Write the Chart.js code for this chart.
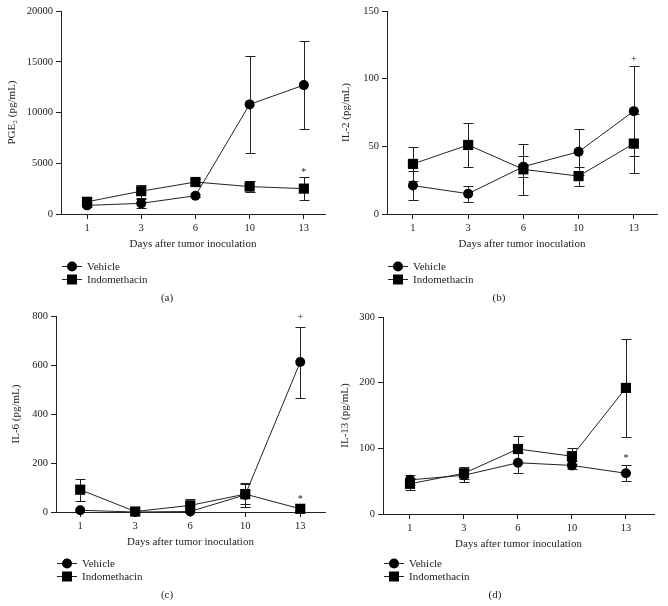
<!DOCTYPE html>
<html>
<head>
<meta charset="utf-8">
<script src="https://cdn.jsdelivr.net/npm/chart.js@4.4.0/dist/chart.umd.min.js"></script>
<style>
    body { margin: 0; background: #fff; }
    .panel { position: absolute; width: 334px; height: 306px; }
</style>
</head>
<body>
<div class="panel" style="left:0;top:0"><canvas id="pa" width="334" height="306"></canvas></div>
<div class="panel" style="left:334px;top:0"><canvas id="pb" width="334" height="306"></canvas></div>
<div class="panel" style="left:0;top:300px"><canvas id="pc" width="334" height="306"></canvas></div>
<div class="panel" style="left:334px;top:300px"><canvas id="pd" width="334" height="306"></canvas></div>
<script>
// days after tumor inoculation (x categories)
const days = ['1', '3', '6', '10', '13'];
const seriesNames = ['Vehicle', 'Indomethacin'];

// (a) PGE2
const pge2Vehicle = [850, 1050, 1800, 10800, 12700];
const pge2VehicleErr = [200, 450, 150, 4750, 4350];
const pge2Indo = [1200, 2250, 3150, 2700, 2500];
const pge2IndoErr = [350, 650, 300, 550, 1100];
const pge2Ticks = [0, 5000, 10000, 15000, 20000];
const pge2Marks = [{ day: 4, value: 4150, text: '*' }];

// (b) IL-2
const il2Vehicle = [21, 15, 35, 46, 76];
const il2VehicleErr = [11, 6, 8, 17, 33];
const il2Indo = [37, 51, 33, 28, 52];
const il2IndoErr = [12.5, 16.5, 19, 7, 22];
const il2Ticks = [0, 50, 100, 150];
const il2Marks = [{ day: 4, value: 114, text: '+' }];

// (c) IL-6
const il6Vehicle = [7, 0, 2, 70, 612];
const il6VehicleErr = [0, 0, 0, 50, 145];
const il6Indo = [91, 2, 27, 73, 13];
const il6IndoErr = [45, 0, 25, 40, 0];
const il6Ticks = [0, 200, 400, 600, 800];
const il6Marks = [{ day: 4, value: 795, text: '+' }, { day: 4, value: 52, text: '*' }];

// (d) IL-13
const il13Vehicle = [52, 59, 78, 74, 62];
const il13VehicleErr = [8, 10, 15, 6, 12];
const il13Indo = [46, 62, 99, 88, 192];
const il13IndoErr = [9, 9, 20, 12, 75];
const il13Ticks = [0, 100, 200, 300];
const il13Marks = [{ day: 4, value: 84, text: '*' }];

const INK = '#222';
const FONT = '"Liberation Serif", "DejaVu Serif", serif';
const PANEL_H = 306;

function drawMarker(ctx, style, x, y) {
    ctx.fillStyle = '#000';
    ctx.beginPath();
    if (style === 'circle') {
        ctx.arc(x, y, 5, 0, Math.PI * 2);
    } else {
        ctx.rect(x - 5, y - 5, 10, 10);
    }
    ctx.fill();
}

// error bars, significance marks, legend and panel letter
const extras = {
    id: 'extras',
    beforeDatasetsDraw(chart) {
        const ctx = chart.ctx;
        const xs = chart.scales.x;
        const ys = chart.scales.y;
        ctx.save();
        ctx.strokeStyle = INK;
        ctx.lineWidth = 1;
        chart.data.datasets.forEach(ds => {
            ds.data.forEach((p, i) => {
                const e = ds.errors[i];
                if (!e) return;
                const x = Math.round(xs.getPixelForValue(p.x)) + 0.5;
                const top = Math.round(ys.getPixelForValue(p.y + e)) + 0.5;
                const bot = Math.round(ys.getPixelForValue(p.y - e)) + 0.5;
                ctx.beginPath();
                ctx.moveTo(x, top); ctx.lineTo(x, bot);
                ctx.moveTo(x - 5, top); ctx.lineTo(x + 5, top);
                ctx.moveTo(x - 5, bot); ctx.lineTo(x + 5, bot);
                ctx.stroke();
            });
        });
        ctx.restore();
    },
    afterDraw(chart, args, opts) {
        const ctx = chart.ctx;
        const xs = chart.scales.x;
        const ys = chart.scales.y;
        ctx.save();
        ctx.fillStyle = INK;
        ctx.font = '10px ' + FONT;
        ctx.textAlign = 'center';
        ctx.textBaseline = 'middle';
        opts.marks.forEach(m => {
            ctx.fillText(m.text, xs.getPixelForValue(m.day), ys.getPixelForValue(m.value));
        });

        // legend
        const lx = chart.chartArea.left;
        ['circle', 'rect'].forEach((style, k) => {
            const y = opts.legendY + k * 13;
            ctx.strokeStyle = INK;
            ctx.lineWidth = 1;
            ctx.beginPath();
            ctx.moveTo(lx + 1, y + 0.5); ctx.lineTo(lx + 21, y + 0.5);
            ctx.stroke();
            drawMarker(ctx, style, lx + 11, y + 0.5);
            ctx.fillStyle = INK;
            ctx.font = '11px ' + FONT;
            ctx.textAlign = 'left';
            ctx.fillText(seriesNames[k], lx + 26, y + 1);
        });

        ctx.font = '11px ' + FONT;
        ctx.textAlign = 'center';
        ctx.fillText(opts.letter, opts.letterX, opts.letterY);
        ctx.restore();
    }
};

function draw_panel(id, vehicle, vehicleErr, indo, indoErr, yTicks, marks, yTitle, lay) {
    const canvas = document.getElementById(id);
    const toPoints = vals => vals.map((v, i) => ({ x: i, y: v }));

    new Chart(canvas, {
        type: 'line',
        data: {
            datasets: [{
                label: seriesNames[0],
                data: toPoints(vehicle),
                errors: vehicleErr,
                pointStyle: 'circle',
                pointRadius: 5,
            }, {
                label: seriesNames[1],
                data: toPoints(indo),
                errors: indoErr,
                pointStyle: 'rect',
                pointRadius: 7.2,
            }].map(ds => Object.assign(ds, {
                borderColor: INK,
                borderWidth: 1,
                backgroundColor: '#000',
                pointBackgroundColor: '#000',
                pointBorderColor: '#000',
                pointBorderWidth: 0,
                clip: false,
            }))
        },
        options: {
            responsive: false,
            animation: false,
            events: [],
            layout: {
                padding: { left: 0, right: 334 - lay.right, top: lay.top, bottom: PANEL_H - lay.bottom - 40 }
            },
            scales: {
                x: {
                    type: 'linear',
                    min: lay.xMin,
                    max: lay.xMax,
                    afterBuildTicks: s => { s.ticks = days.map((d, i) => ({ value: i })); },
                    afterFit: s => { s.height = 40; },
                    grid: { drawOnChartArea: false, drawTicks: true, tickLength: 5, color: INK },
                    border: { display: true, color: INK, width: 1 },
                    ticks: {
                        color: INK,
                        padding: 3,
                        maxRotation: 0,
                        font: { family: FONT, size: 10.5 },
                        callback: v => days[v],
                    },
                    title: {
                        display: true,
                        text: 'Days after tumor inoculation',
                        color: INK,
                        font: { family: FONT, size: 11 },
                        padding: { top: 0, bottom: 3 },
                    }
                },
                y: {
                    min: yTicks[0],
                    max: yTicks[yTicks.length - 1],
                    afterBuildTicks: s => { s.ticks = yTicks.map(v => ({ value: v })); },
                    afterFit: s => { s.width = lay.axis; },
                    grid: { drawOnChartArea: false, drawTicks: true, tickLength: 5, color: INK },
                    border: { display: true, color: INK, width: 1 },
                    ticks: {
                        color: INK,
                        padding: 3,
                        font: { family: FONT, size: 10.5 },
                        callback: v => String(v),
                    },
                    title: {
                        display: true,
                        text: yTitle,
                        color: INK,
                        font: { family: FONT, size: 11 },
                        padding: { top: lay.titlePad, bottom: 0 },
                    }
                }
            },
            plugins: {
                legend: { display: false },
                tooltip: { enabled: false },
                extras: {
                    marks: marks,
                    legendY: lay.legendY,
                    letter: lay.letter,
                    letterX: lay.letterX,
                    letterY: lay.letterY,
                }
            }
        },
        plugins: [extras],
    });
}

draw_panel('pa', pge2Vehicle, pge2VehicleErr, pge2Indo, pge2IndoErr, pge2Ticks, pge2Marks, 'PGE\u2082 (pg/mL)',
    { axis: 61, top: 11, bottom: 214, right: 325, xMin: -0.48, xMax: 4.39, titlePad: 6, legendY: 266, letter: '(a)', letterX: 167, letterY: 298 });
draw_panel('pb', il2Vehicle, il2VehicleErr, il2Indo, il2IndoErr, il2Ticks, il2Marks, 'IL-2 (pg/mL)',
    { axis: 53, top: 11, bottom: 214, right: 323, xMin: -0.47, xMax: 4.42, titlePad: 6, legendY: 266, letter: '(b)', letterX: 165, letterY: 298 });
draw_panel('pc', il6Vehicle, il6VehicleErr, il6Indo, il6IndoErr, il6Ticks, il6Marks, 'IL-6 (pg/mL)',
    { axis: 56, top: 16, bottom: 212, right: 325, xMin: -0.44, xMax: 4.45, titlePad: 10, legendY: 263, letter: '(c)', letterX: 167, letterY: 295 });
draw_panel('pd', il13Vehicle, il13VehicleErr, il13Indo, il13IndoErr, il13Ticks, il13Marks, 'IL-13 (pg/mL)',
    { axis: 49, top: 17, bottom: 214, right: 320, xMin: -0.5, xMax: 4.52, titlePad: 5, legendY: 263, letter: '(d)', letterX: 161, letterY: 295 });
</script>
</body>
</html>
